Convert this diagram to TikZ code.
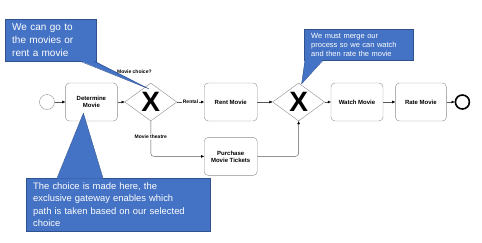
\documentclass[tikz,border=0pt]{standalone}
\usepackage{fontspec}
\setmainfont{Liberation Sans}
\usetikzlibrary{positioning, arrows.meta, shapes.geometric, calc}
\definecolor{noteblue}{HTML}{4472C4}
\definecolor{noteedge}{HTML}{2F528F}
\definecolor{boxgray}{HTML}{8C8C8C}
\definecolor{flowgray}{HTML}{595959}
\tikzset{
  task/.style={rectangle, draw=boxgray, rounded corners=4pt,
    minimum width=52pt, minimum height=38pt, inner sep=1pt,
    font=\fontsize{6}{7}\selectfont\bfseries, align=center},
  gateway/.style={diamond, draw=boxgray, minimum width=52pt, minimum height=38pt,
    inner sep=0pt, font=\fontsize{28}{28}\selectfont\bfseries},
  event/.style={circle, draw=boxgray, minimum size=15pt, inner sep=0pt},
  endevent/.style={circle, draw=black, line width=1.6pt, minimum size=14pt, inner sep=0pt},
  flow/.style={draw=flowgray, -{Triangle[length=3pt, width=2.6pt, color=black]}},
  flowlabel/.style={font=\fontsize{5}{6}\selectfont\bfseries, fill=white, inner sep=1pt},
  note/.style={rectangle, fill=noteblue, draw=noteedge, text=white, align=left,
    anchor=north west, inner xsep=7pt, inner ysep=2pt},
}

\begin{document}
\begin{tikzpicture}[x=1pt, y=-1pt]
    \useasboundingbox (0,0) rectangle (482,242);

    % process row
    \node (start) [event] at (47,102) {};
    \node (determine) [task, right=10.5pt of start] {Determine\\Movie};
    \node (choice) [gateway, right=7pt of determine] {X};
    \node (rent) [task, right=27pt of choice, minimum width=53pt] {Rent Movie};
    \node (merge) [gateway, right=15pt of rent] {X};
    \node (watch) [task, right=6pt of merge] {Watch Movie};
    \node (rate) [task, right=12pt of watch, minimum width=51pt] {Rate Movie};
    \node (finish) [endevent, right=8pt of rate] {};
    \node (tickets) [task, below=16pt of rent, minimum width=53pt] {Purchase\\Movie Tickets};
    \node (choicelabel) [flowlabel, above left=8pt and -2pt of choice.north] {Movie choice?};

    % sequence flows
    \draw[flow] (start) -- (determine);
    \draw[flow] (determine) -- (choice);
    \draw[flow] (choice) -- node[flowlabel] {Rental} (rent);
    \draw[flow, rounded corners=3pt] (choice.south) |- node[flowlabel, pos=0.22] {Movie theatre} (tickets.west);
    \draw[flow, rounded corners=3pt] (tickets.east) -| (merge.south);
    \draw[flow] (rent) -- (merge);
    \draw[flow] (merge) -- (watch);
    \draw[flow] (watch) -- (rate);
    \draw[flow] (rate) -- (finish);

    % callouts
    \node (hint1) [note, minimum width=91pt, minimum height=42pt, text width=77pt,
      font=\fontsize{10}{13}\selectfont] at (5,19) {We can go to\\the movies or\\rent a movie};
    \node (hint2) [note, minimum width=109pt, minimum height=31pt, text width=95pt,
      font=\fontsize{7.5}{9}\selectfont] at (304,29) {We must merge our\\process so we can watch\\and then rate the movie};
    \node (hint3) [note, minimum width=184pt, minimum height=53pt, text width=170pt,
      font=\fontsize{9.4}{12.5}\selectfont] at (26,178) {The choice is made here, the\\exclusive gateway enables which\\path is taken based on our selected\\choice};

    \fill[noteblue] ($(hint1.south east)+(-16,-0.5)$) -- ($(choice.north)+(-2,6)$) -- ($(hint1.south east)+(-2,-0.5)$) -- cycle;
    \draw[noteedge] ($(hint1.south east)+(-16,0)$) -- ($(choice.north)+(-2,6)$) -- ($(hint1.south east)+(-2,0)$);
    \fill[noteblue] ($(hint2.south west)+(1,-0.5)$) -- ($(merge.north)+(3,1)$) -- ($(hint2.south west)+(19,-0.5)$) -- cycle;
    \draw[noteedge] ($(hint2.south west)+(1,0)$) -- ($(merge.north)+(3,1)$) -- ($(hint2.south west)+(19,0)$);
    \fill[noteblue] ($(hint3.north west)+(31,0.5)$) -- ($(determine.south)+(-8,-8)$) -- ($(hint3.north west)+(77,0.5)$) -- cycle;
    \draw[noteedge] ($(hint3.north west)+(31,0)$) -- ($(determine.south)+(-8,-8)$) -- ($(hint3.north west)+(77,0)$);
  \end{tikzpicture}
\end{document}
